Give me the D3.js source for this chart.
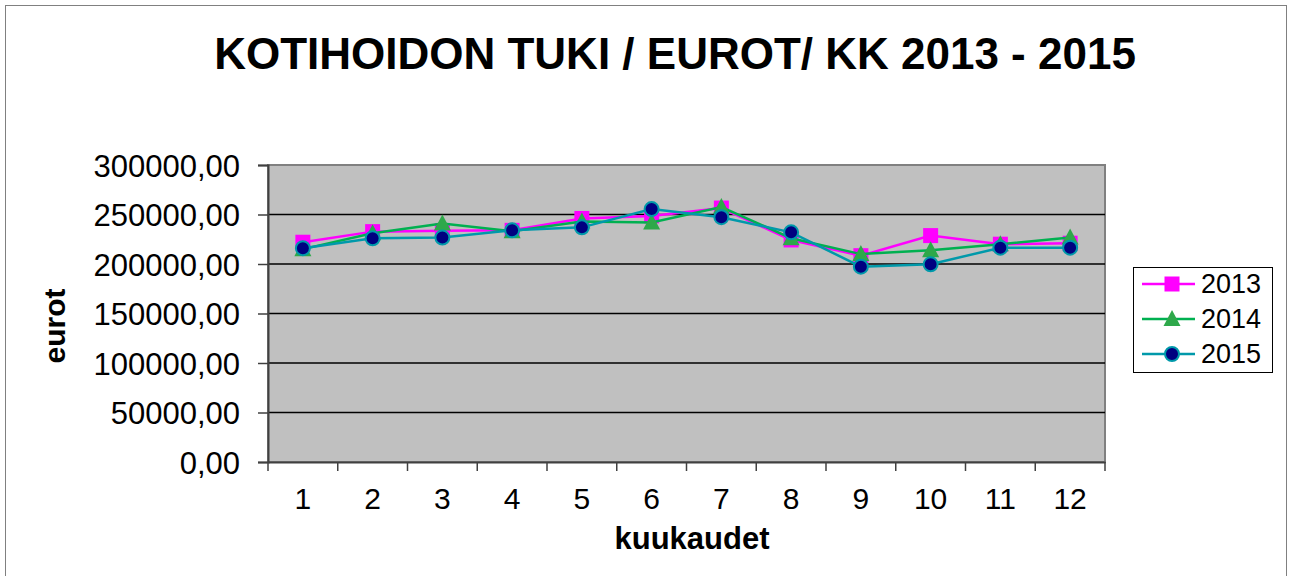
<!DOCTYPE html>
<html>
<head>
<meta charset="utf-8">
<script src="https://cdn.jsdelivr.net/npm/d3@7"></script>
<style>
  body { margin: 0; background: #fff; }
  text { font-family: Arial, "Liberation Sans", sans-serif; }
</style>
</head>
<body>
<svg id="chart"></svg>
<script>
const months = ["1", "2", "3", "4", "5", "6", "7", "8", "9", "10", "11", "12"]
const values2013 = [222000, 232700, 233700, 234000, 246000, 248600, 256500, 224300, 208400, 228700, 220000, 221000]
const values2014 = [215000, 231000, 241000, 233000, 243000, 242000, 257500, 226000, 210000, 214000, 220000, 226700]
const values2015 = [216000, 226000, 226700, 234000, 237000, 255500, 247300, 232000, 197300, 199700, 216500, 216500]
const yTicks = [0, 50000, 100000, 150000, 200000, 250000, 300000]
const seriesNames = ["2013", "2014", "2015"]

const width = 1292
const height = 576
const plot = { left: 268, right: 1105, top: 165, bottom: 462 }

const svg = d3.select("#chart")
    .attr("width", width)
    .attr("height", height)

// outer chart border
svg.append("rect")
    .attr("x", 5.5).attr("y", 5.5)
    .attr("width", 1281).attr("height", 580)
    .attr("fill", "#fff")
    .attr("stroke", "#808080")
    .attr("stroke-width", 1)

const x = d3.scaleBand().domain(months).range([plot.left, plot.right])
const y = d3.scaleLinear().domain([0, 300000]).range([plot.bottom, plot.top])

// plot background
svg.append("rect")
    .attr("x", plot.left).attr("y", plot.top)
    .attr("width", plot.right - plot.left).attr("height", plot.bottom - plot.top)
    .attr("fill", "#c0c0c0")
    .attr("stroke", "#808080")
    .attr("stroke-width", 2)

// gridlines
svg.append("g").selectAll("line")
    .data(yTicks.filter(d => d > 0 && d < 300000))
    .enter().append("line")
    .attr("x1", plot.left).attr("x2", plot.right)
    .attr("y1", d => y(d)).attr("y2", d => y(d))
    .attr("stroke", "#000")
    .attr("stroke-width", 1.5)

// y axis
const fmt = d => d3.format(".2f")(d).replace(".", ",")
const yAxis = svg.append("g")
    .attr("transform", `translate(${plot.left},0)`)
    .call(d3.axisLeft(y).tickValues(yTicks).tickFormat(fmt).tickSize(10).tickPadding(18))
yAxis.select(".domain").attr("stroke", "#404040").attr("stroke-width", 2)
yAxis.selectAll(".tick line").attr("stroke", "#404040").attr("stroke-width", 1.5)
yAxis.selectAll("text").attr("font-size", 31).attr("fill", "#000").attr("dy", "0.36em")

// x axis: labels under category centers, ticks on category edges
const xAxis = svg.append("g")
    .attr("transform", `translate(0,${plot.bottom})`)
    .call(d3.axisBottom(x).tickSize(0).tickPadding(26))
xAxis.select(".domain").attr("stroke", "#404040").attr("stroke-width", 2)
xAxis.selectAll("text").attr("font-size", 30).attr("fill", "#000").attr("dy", "0.71em")
xAxis.selectAll(".edge")
    .data(months.concat(["end"]))
    .enter().append("line")
    .attr("x1", (d, i) => plot.left + i * x.step())
    .attr("x2", (d, i) => plot.left + i * x.step())
    .attr("y1", 0).attr("y2", 9)
    .attr("stroke", "#404040")
    .attr("stroke-width", 1.5)

// titles
svg.append("text")
    .attr("x", 675).attr("y", 69)
    .attr("text-anchor", "middle")
    .attr("font-size", 44).attr("font-weight", "bold")
    .text("KOTIHOIDON TUKI / EUROT/ KK 2013 - 2015")

svg.append("text")
    .attr("x", 692).attr("y", 549)
    .attr("text-anchor", "middle")
    .attr("font-size", 31).attr("font-weight", "bold")
    .text("kuukaudet")

svg.append("text")
    .attr("transform", "translate(65,326) rotate(-90)")
    .attr("text-anchor", "middle")
    .attr("font-size", 30).attr("font-weight", "bold")
    .text("eurot")

// series
const series = [
    { name: seriesNames[0], values: values2013, line: "#ff00ff", fill: "#ff00ff", stroke: "#ff00ff", shape: "square" },
    { name: seriesNames[1], values: values2014, line: "#00b050", fill: "#2ea84a", stroke: "#2ea84a", shape: "triangle" },
    { name: seriesNames[2], values: values2015, line: "#0099aa", fill: "#000080", stroke: "#0099aa", shape: "circle" }
]

const cx = m => x(m) + x.bandwidth() / 2
const line = d3.line().x(d => cx(d.m)).y(d => y(d.v))

function drawMarker(g, s, px, py) {
    if (s.shape === "square") {
        g.append("rect")
            .attr("x", px - 7.5).attr("y", py - 7.5)
            .attr("width", 15).attr("height", 15)
            .attr("fill", s.fill)
    } else if (s.shape === "triangle") {
        g.append("path")
            .attr("d", `M${px},${py - 9}L${px + 8.5},${py + 7}L${px - 8.5},${py + 7}Z`)
            .attr("fill", s.fill)
    } else {
        g.append("circle")
            .attr("cx", px).attr("cy", py).attr("r", 7)
            .attr("fill", s.fill)
            .attr("stroke", s.stroke)
            .attr("stroke-width", 2)
    }
}

series.forEach(s => {
    const pts = s.values.map((v, i) => ({ m: months[i], v: v }))
    const g = svg.append("g")
    g.append("path")
        .datum(pts)
        .attr("d", line)
        .attr("fill", "none")
        .attr("stroke", s.line)
        .attr("stroke-width", 2.5)
    pts.forEach(p => drawMarker(g, s, cx(p.m), y(p.v)))
})

// legend
const legend = svg.append("g")
legend.append("rect")
    .attr("x", 1133.5).attr("y", 267.5)
    .attr("width", 139).attr("height", 105)
    .attr("fill", "#fff")
    .attr("stroke", "#000")
    .attr("stroke-width", 1)

series.forEach((s, i) => {
    const ly = 284 + i * 35
    const g = legend.append("g")
    g.append("line")
        .attr("x1", 1142).attr("x2", 1195)
        .attr("y1", ly).attr("y2", ly)
        .attr("stroke", s.line)
        .attr("stroke-width", 2.5)
    drawMarker(g, s, 1172, ly)
    g.append("text")
        .attr("x", 1201).attr("y", ly + 9)
        .attr("font-size", 27)
        .text(s.name)
})
</script>
</body>
</html>
